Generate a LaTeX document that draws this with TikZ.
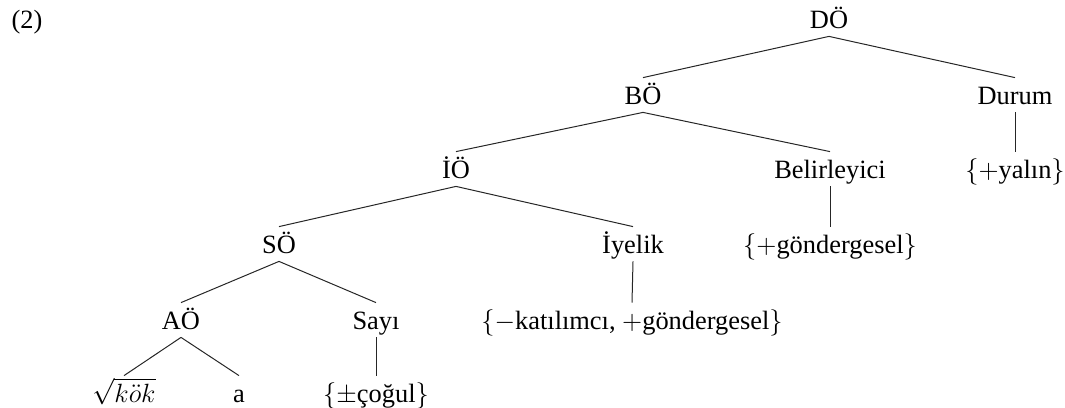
\documentclass[tikz,border=0pt]{standalone}
\usepackage{fix-cm}
\usepackage[no-math]{fontspec}
\setmainfont{Liberation Serif}
\begin{document}
\begin{tikzpicture}[x=0.5pt,y=-0.5pt,
  lbl/.style={font=\fontsize{13.2}{16}\selectfont, inner xsep=0pt, inner ysep=4pt, text height=9pt, text depth=0pt, anchor=base},
  edge/.style={line width=0.5pt, draw=black!85}]
\useasboundingbox (0,0) rectangle (1065,407);
\node[lbl] (ex) at (27,28) {(2)};
\node[lbl] (DO) at (829,28) {DÖ};
\node[lbl] (BO) at (643,104) {BÖ};
\node[lbl] (Durum) at (1015,104) {Durum};
\node[lbl] (IO) at (456,178) {İÖ};
\node[lbl] (Bel) at (830,178) {Belirleyici};
\node[lbl] (yalin) at (1015,178) {$\{+$yalın$\}$};
\node[lbl] (SO) at (279,253) {SÖ};
\node[lbl] (Iyelik) at (633,253) {İyelik};
\node[lbl] (gond) at (830,253) {$\{+$göndergesel$\}$};
\node[lbl] (AO) at (181,329) {AÖ};
\node[lbl] (Sayi) at (376,329) {Sayı};
\node[lbl] (katil) at (632,329) {$\{-$katılımcı, $+$göndergesel$\}$};
\node[lbl] (kok) at (124,402) {$\sqrt{k\ddot{o}k}$};
\node[lbl] (a) at (239,402) {a};
\node[lbl] (cogul) at (376,402) {$\{\pm$çoğul$\}$};
\draw[edge] (DO.south) -- (BO.north);
\draw[edge] (DO.south) -- (Durum.north);
\draw[edge] (BO.south) -- (IO.north);
\draw[edge] (BO.south) -- (Bel.north);
\draw[edge] (Durum.south) -- (yalin.north);
\draw[edge] (IO.south) -- (SO.north);
\draw[edge] (IO.south) -- (Iyelik.north);
\draw[edge] (Bel.south) -- (gond.north);
\draw[edge] (SO.south) -- (AO.north);
\draw[edge] (SO.south) -- (Sayi.north);
\draw[edge] (Iyelik.south) -- (katil.north);
\draw[edge] (AO.south) -- (kok.north);
\draw[edge] (AO.south) -- (a.north);
\draw[edge] (Sayi.south) -- (cogul.north);
\end{tikzpicture}
\end{document}
